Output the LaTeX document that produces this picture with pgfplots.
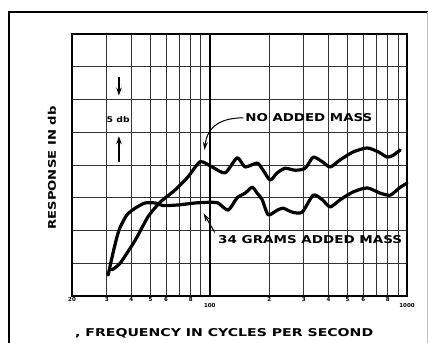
\documentclass[border=0pt]{standalone}
\usepackage{fontspec}
\setmainfont{DejaVu Sans}
\usepackage{graphicx}
\usepackage{pgfplots}
\pgfplotsset{compat=1.18}
\usetikzlibrary{arrows.meta}
\usepackage{pgfplotstable}

\pgfplotstableread{
f v
31.9 4.0
35.1 5.0
41.8 8.5
48.6 12.1
55.9 14.3
66.7 16.2
77.6 18.2
89.3 20.5
102.7 19.7
119.6 18.8
137.6 21.1
151 19.7
173.8 20.3
186.4 19.2
202.4 17.7
219.6 18.8
241 19.5
271 19.2
304.6 19.5
334.6 21.2
371.7 20.5
408 19.7
458.7 20.8
534 22.0
628.8 22.6
715 22.0
794 21.2
852 21.5
924 22.3
}\nomass

\pgfplotstableread{
f v
30.5 3.2
32.3 6.6
33.8 9.0
35.1 10.5
38.0 12.4
41.8 13.4
46.9 14.2
52.8 14.2
58 13.8
69 13.9
84.2 14.2
98 14.3
110 14.2
123.9 13.1
137.6 15.0
151 15.7
164 16.6
173.8 15.7
184.3 14.7
197.7 12.4
219.6 13.1
235.6 13.4
261.8 12.8
294 12.8
334.6 15.4
371.7 14.7
408 13.6
458.7 14.7
534 15.9
628.8 16.5
732 15.7
823 15.4
924 16.6
1000 17.2
}\grams

\begin{document}
\begin{tikzpicture}
\useasboundingbox (0,0) rectangle (429pt,343pt);
\draw[line width=2pt] (9pt,0) -- (9pt,331pt) -- (428pt,331pt);
\draw[line width=0.8pt, black!25] (427.5pt,0) -- (427.5pt,331pt);
\begin{axis}[
 at={(72pt,47pt)}, anchor=south west,
 scale only axis, width=335pt, height=262pt,
 xmode=log, xmin=20, xmax=1000, ymin=0, ymax=40,
 xtick={20,30,40,50,60,70,80,90,200,300,400,500,600,700,800,900},
 xticklabels={20,3,4,5,6,,8,,2,3,4,5,6,,8,},
 extra x ticks={100,1000},
 extra x tick labels={100,1000},
 extra x tick style={major grid style={line width=1.8pt,draw=black}, xticklabel style={yshift=-6pt}},
 ytick={0,5,...,40}, yticklabels={},
 grid=major,
 major grid style={line width=0.9pt, draw=black!80},
 major tick length=0pt,
 axis line style={line width=1.8pt},
 xticklabel style={font=\fontsize{5.5}{5.5}\selectfont\bfseries, inner sep=1.5pt},
 clip=false,
]
\addplot[black, line width=3.2pt, smooth, tension=0.4, line join=round, line cap=round] table[x=f,y=v] {\nomass};
\addplot[black, line width=3.2pt, smooth, tension=0.4, line join=round, line cap=round] table[x=f,y=v] {\grams};

\node[anchor=west, inner sep=0] at (axis cs:151,27.3) {\resizebox{127pt}{8pt}{\bfseries NO ADDED MASS}};
\draw[line width=1pt, -{Stealth[length=8pt,width=5pt]}] (axis cs:148,27.2) .. controls (axis cs:115,27.2) and (axis cs:97,26) .. (axis cs:94,22.3);

\node[anchor=west, inner sep=0] at (axis cs:110,8.55) {\resizebox{184pt}{8pt}{\bfseries 34 GRAMS ADDED MASS}};
\draw[line width=1pt, -{Stealth[length=8pt,width=5pt]}] (axis cs:106,9.7) -- (axis cs:93,12.6);

\draw[line width=1.2pt, -{Stealth[length=8pt,width=5.5pt]}] (axis cs:34.6,33.4) -- (axis cs:34.6,30.6);
\draw[line width=1.2pt, -{Stealth[length=8pt,width=5.5pt]}] (axis cs:34.6,20.5) -- (axis cs:34.6,24.4);
\node[inner sep=0] at (axis cs:34.3,27) {\resizebox{23pt}{6pt}{\bfseries 5 db}};
\end{axis}
\node[rotate=90, inner sep=0] at (52pt,175pt) {\resizebox{123pt}{8pt}{\bfseries RESPONSE IN db}};
\node[inner sep=0, anchor=base west] at (75pt,6pt) {\resizebox{298pt}{8pt}{\bfseries , FREQUENCY IN CYCLES PER SECOND}};
\end{tikzpicture}
\end{document}
